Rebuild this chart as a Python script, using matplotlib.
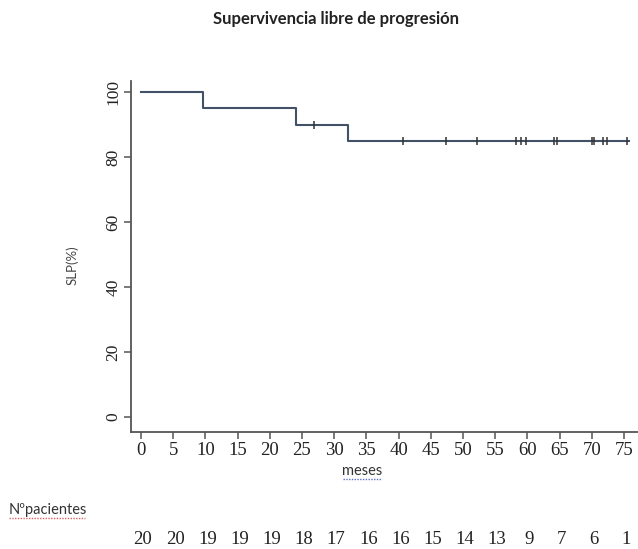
import numpy as np
import matplotlib
matplotlib.use("Agg")
import matplotlib.pyplot as plt
import matplotlib.transforms as mtransforms

# Kaplan-Meier steps (months, SLP %)
step_times = [0, 9.6, 24.0, 32.2, 75.8]
step_surv = [100, 95, 90, 85, 85]

# censored observations
cens_times = [26.9, 40.7, 47.3, 52.1, 58.2, 59.0, 59.8, 64.1, 64.6, 70.0, 70.3, 71.8, 72.3, 75.5]
cens_surv = [90, 85, 85, 85, 85, 85, 85, 85, 85, 85, 85, 85, 85, 85]

x_ticks = list(range(0, 80, 5))
y_ticks = [0, 20, 40, 60, 80, 100]
at_risk = [20, 20, 19, 19, 19, 18, 17, 16, 16, 15, 14, 13, 9, 7, 6, 1]

line_col = "#435166"
axis_col = "#555555"
serif = "Liberation Serif"
sans = "Lato"

fig = plt.figure(figsize=(6.38, 5.49), dpi=100)
ax = fig.add_axes([0.2053, 0.2131, 0.793, 0.639])

ax.plot(step_times, step_surv, drawstyle="steps-post", color=line_col, lw=1.5)
ax.plot(cens_times, cens_surv, ls="none", marker="|", ms=6, mew=1.1, color="#333333")

ax.set_xlim(-1.55, 77.0)
ax.set_ylim(-4.6, 103.4)
ax.set_xticks(x_ticks)
ax.set_yticks(y_ticks)
ax.set_xticklabels([str(v) for v in x_ticks], fontsize=13.5, family=serif, color="#222222")
ax.set_yticklabels([str(v) for v in y_ticks], fontsize=12.5, family=serif, color="#222222",
                   rotation=90, va="center")
ax.tick_params(axis="both", direction="out", length=5, width=1.1, color=axis_col)
ax.tick_params(axis="x", pad=2)
ax.tick_params(axis="y", pad=2)

for side in ["top", "right"]:
    ax.spines[side].set_visible(False)
for side in ["left", "bottom"]:
    ax.spines[side].set_color(axis_col)
    ax.spines[side].set_linewidth(1.3)

fig.text(0.113, 0.517, "SLP(%)", rotation=90, ha="center", va="center",
         fontsize=9.5, family=sans, color="#444444")

fig.text(0.527, 0.965, "Supervivencia libre de progresión", ha="center", va="center",
         fontsize=12, fontweight="bold", family=sans, color="#222222")

# x label with spell-check style underline
fig.text(0.568, 0.142, "meses", ha="center", va="center", fontsize=10.5, family=sans, color="#333333")
fig.add_artist(plt.Line2D([0.537, 0.599], [0.128, 0.128], color="#5a6fc8", lw=1.0, ls=(0, (1, 1))))

fig.text(0.014, 0.071, "Nºpacientes", ha="left", va="center", fontsize=10.5, family=sans, color="#333333")
fig.add_artist(plt.Line2D([0.014, 0.133], [0.056, 0.056], color="#e06060", lw=1.0, ls=(0, (1, 1))))

# number at risk row, under the month ticks
trans = mtransforms.blended_transform_factory(ax.transData, fig.transFigure)
for xp, n in zip(x_ticks, at_risk):
    ax.text(xp + 0.3, 0.018, str(n), transform=trans, ha="center", va="center",
            fontsize=13.5, family=serif, color="#222222", clip_on=False)

fig.savefig("out.png", dpi=100)
